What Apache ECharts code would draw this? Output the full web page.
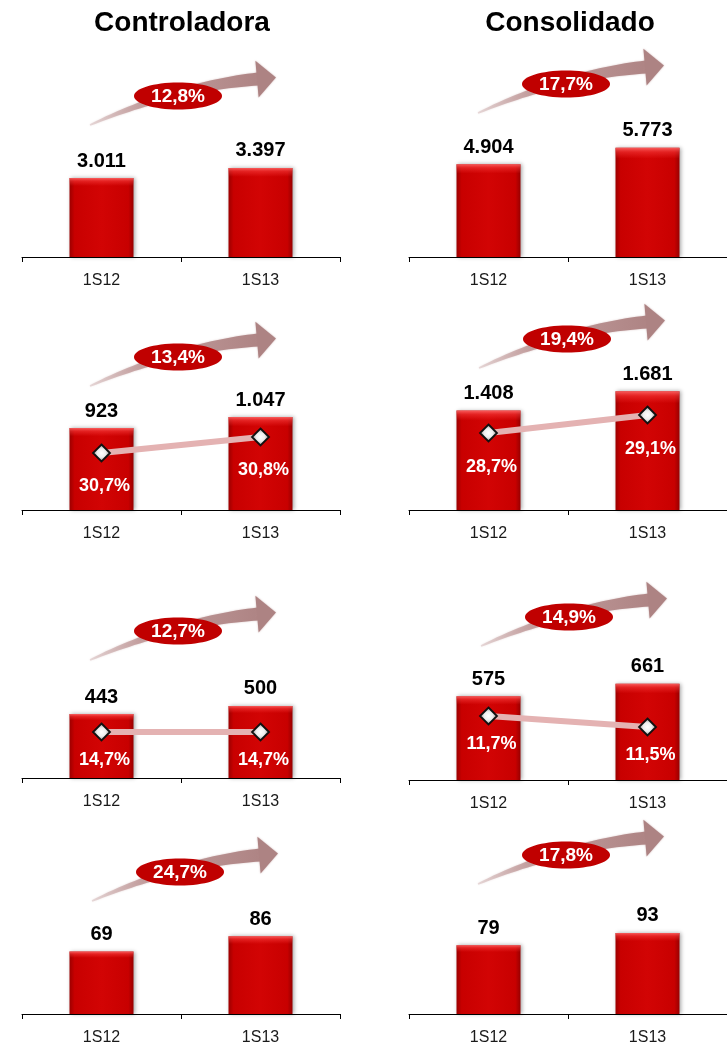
<!DOCTYPE html>
<html>
<head>
<meta charset="utf-8">
<style>
html,body{margin:0;padding:0;background:#fff;}
#chart{width:727px;height:1046px;}
</style>
<script src="https://cdn.jsdelivr.net/npm/echarts@6/dist/echarts.min.js"></script>
</head>
<body>
<div id="chart"></div>
<script>
// ---------- data ----------
const categories = ['1S12', '1S13'];
const columnTitles = ['Controladora', 'Consolidado'];

const ctrlRow1 = [3011, 3397];
const consRow1 = [4904, 5773];
const ctrlRow2 = [923, 1047];
const consRow2 = [1408, 1681];
const ctrlRow3 = [443, 500];
const consRow3 = [575, 661];
const ctrlRow4 = [69, 86];
const consRow4 = [79, 93];

const ctrlMargin2 = [30.7, 30.8];
const consMargin2 = [28.7, 29.1];
const ctrlMargin3 = [14.7, 14.7];
const consMargin3 = [11.7, 11.5];

const growthPct = [12.8, 17.7, 13.4, 19.4, 12.7, 14.9, 24.7, 17.8];

// ---------- layout (positions / scales) ----------
const barSeries = [ctrlRow1, consRow1, ctrlRow2, consRow2, ctrlRow3, consRow3, ctrlRow4, consRow4];
const lineSeries = {2: ctrlMargin2, 3: consMargin2, 4: ctrlMargin3, 5: consMargin3};

const panelLeft = [22, 409, 22, 409, 22, 409, 22, 409];
const panelAxisY = [257, 257, 510, 510, 778, 780, 1019, 1018];
const gridH = 150;
const barMax = [5721, 7928, 1689, 2125, 1040, 1030, 160.3, 167.5];
const pctAxisRange = {2: [30.344, 31.281], 3: [26.989, 30.322], 4: [14.24, 15.74], 5: [10.536, 13.264]};
const pctLabelDist = {2: 15, 3: 16, 4: 10, 5: 10};
const arrowCenter = [[178, 96], [566, 84], [178, 357], [567, 339], [178, 631], [569, 617], [180, 872], [566, 855]];
const titleCenter = [[182, 23], [570, 23]];

const FONT = '"Liberation Sans", Arial, Helvetica, sans-serif';

function fmtThousands(v) {
  return String(v).replace(/\B(?=(\d{3})+(?!\d))/g, '.');
}
function fmtPct(v) {
  return v.toFixed(1).replace('.', ',') + '%';
}

// ---------- arrow shape ----------
function arrowGraphics(cx, cy, pct) {
  const P0 = [-88, 29], P1 = [0, -10], P2 = [80, -17];
  const top = [], bot = [];
  const N = 32;
  for (let k = 0; k <= N; k++) {
    const t = k / N;
    const a = (1 - t) * (1 - t), b = 2 * t * (1 - t), c = t * t;
    const x = a * P0[0] + b * P1[0] + c * P2[0];
    const y = a * P0[1] + b * P1[1] + c * P2[1];
    const dx = 2 * (1 - t) * (P1[0] - P0[0]) + 2 * t * (P2[0] - P1[0]);
    const dy = 2 * (1 - t) * (P1[1] - P0[1]) + 2 * t * (P2[1] - P1[1]);
    const len = Math.sqrt(dx * dx + dy * dy);
    const nx = -dy / len, ny = dx / len;
    const w = 1.5 + 11.5 * Math.pow(t, 0.75);
    top.push([x - nx * w / 2, y - ny * w / 2]);
    bot.push([x + nx * w / 2, y + ny * w / 2]);
  }
  const bodyPts = top.concat(bot.reverse());
  const ddx = P2[0] - P1[0], ddy = P2[1] - P1[1];
  const dl = Math.sqrt(ddx * ddx + ddy * ddy);
  const ux = ddx / dl, uy = ddy / dl;
  const nx = -uy, ny = ux;
  const hw = 18.5, hl = 18;
  const headPts = [
    [P2[0] - nx * hw - ux * 1, P2[1] - ny * hw - uy * 1],
    [P2[0] + ux * hl, P2[1] + uy * hl],
    [P2[0] + nx * hw - ux * 1, P2[1] + ny * hw - uy * 1]
  ];
  return [
    {
      type: 'polygon', x: cx, y: cy, z: 1, silent: true,
      shape: {points: bodyPts},
      style: {
        fill: {
          type: 'linear', x: 0, y: 0, x2: 1, y2: 0,
          colorStops: [
            {offset: 0, color: 'rgba(200,165,165,0.35)'},
            {offset: 0.3, color: 'rgba(190,150,150,0.85)'},
            {offset: 1, color: 'rgba(174,132,132,1)'}
          ]
        },
        shadowBlur: 2, shadowColor: 'rgba(176,134,134,0.5)'
      }
    },
    {
      type: 'polygon', x: cx, y: cy, z: 1, silent: true,
      shape: {points: headPts},
      style: {fill: '#ad8383', shadowBlur: 2, shadowColor: 'rgba(176,134,134,0.6)'}
    },
    {
      type: 'ellipse', z: 2, silent: true,
      shape: {cx: cx, cy: cy, rx: 44, ry: 13.5},
      style: {fill: '#c00000'}
    },
    {
      type: 'text', x: cx, y: cy + 1, z: 3, silent: true,
      style: {
        text: fmtPct(pct), fill: '#ffffff',
        fontSize: 19, fontWeight: 'bold', fontFamily: FONT,
        align: 'center', verticalAlign: 'middle',
        textAlign: 'center', textVerticalAlign: 'middle'
      }
    }
  ];
}

// ---------- build option ----------
const grids = [], xAxes = [], yAxes = [], series = [];
let graphics = [];

const barFill = {
  type: 'linear', x: 0, y: 0, x2: 1, y2: 0,
  colorStops: [
    {offset: 0, color: '#9c0000'},
    {offset: 0.08, color: '#c80000'},
    {offset: 0.5, color: '#d20404'},
    {offset: 0.92, color: '#c80000'},
    {offset: 1, color: '#980000'}
  ]
};
const barHighlight = {
  type: 'linear', x: 0, y: 0, x2: 0, y2: 1,
  colorStops: [
    {offset: 0, color: 'rgba(255,110,110,0.85)'},
    {offset: 0.04, color: 'rgba(255,70,70,0.45)'},
    {offset: 0.1, color: 'rgba(255,60,60,0)'},
    {offset: 1, color: 'rgba(0,0,0,0)'}
  ]
};

for (let i = 0; i < 8; i++) {
  grids.push({left: panelLeft[i], top: panelAxisY[i] - gridH, width: 318, height: gridH, containLabel: false});
  xAxes.push({
    type: 'category', gridIndex: i, data: categories,
    axisLine: {show: true, lineStyle: {color: '#000', width: 1}},
    axisTick: {show: true, length: 5, lineStyle: {color: '#000', width: 1}},
    axisLabel: {color: '#1a1a1a', fontSize: 16, margin: 16, fontFamily: FONT},
    splitLine: {show: false}
  });
  yAxes.push({type: 'value', gridIndex: i, min: 0, max: barMax[i], show: false, splitLine: {show: false}});
  series.push({
    type: 'bar', xAxisIndex: i, yAxisIndex: i, data: barSeries[i],
    barWidth: 64, barGap: '-100%', z: 2,
    itemStyle: {color: barFill, shadowBlur: 4, shadowColor: 'rgba(0,0,0,0.35)', shadowOffsetX: 1, shadowOffsetY: 0},
    label: {
      show: true, position: 'top', distance: 7,
      formatter: p => fmtThousands(p.value),
      fontSize: 20, fontWeight: 'bold', color: '#000', fontFamily: FONT
    }
  });
  series.push({
    type: 'bar', xAxisIndex: i, yAxisIndex: i, data: barSeries[i],
    barWidth: 64, barGap: '-100%', silent: true, z: 2,
    itemStyle: {color: barHighlight}
  });
  graphics = graphics.concat(arrowGraphics(arrowCenter[i][0], arrowCenter[i][1], growthPct[i]));
}

Object.keys(lineSeries).forEach(key => {
  const i = Number(key);
  const yIdx = yAxes.length;
  yAxes.push({type: 'value', gridIndex: i, min: pctAxisRange[i][0], max: pctAxisRange[i][1], show: false, splitLine: {show: false}});
  series.push({
    type: 'line', xAxisIndex: i, yAxisIndex: yIdx, data: lineSeries[i], z: 4,
    symbol: 'diamond', symbolSize: 17,
    lineStyle: {color: '#e4b2b2', width: 6},
    itemStyle: {
      color: {
        type: 'radial', x: 0.5, y: 0.5, r: 0.5,
        colorStops: [
          {offset: 0, color: '#ffffff'},
          {offset: 0.45, color: '#eeeeee'},
          {offset: 1, color: '#808080'}
        ]
      },
      borderColor: '#111', borderWidth: 1.8
    },
    label: {
      show: true, position: 'bottom', distance: pctLabelDist[i], offset: [3, 0],
      formatter: p => fmtPct(p.value),
      color: '#ffffff', fontSize: 18, fontWeight: 'bold', fontFamily: FONT
    }
  });
});

columnTitles.forEach((t, j) => {
  graphics.push({
    type: 'text', x: titleCenter[j][0], y: titleCenter[j][1], z: 5, silent: true,
    style: {
      text: t, fill: '#000', fontSize: 28, fontWeight: 'bold', fontFamily: FONT,
      align: 'center', verticalAlign: 'middle', textAlign: 'center', textVerticalAlign: 'middle'
    }
  });
});

const chart = echarts.init(document.getElementById('chart'), null, {renderer: 'canvas'});
chart.setOption({
  backgroundColor: '#ffffff',
  animation: false,
  grid: grids,
  xAxis: xAxes,
  yAxis: yAxes,
  series: series,
  graphic: {elements: graphics}
});
</script>
</body>
</html>
